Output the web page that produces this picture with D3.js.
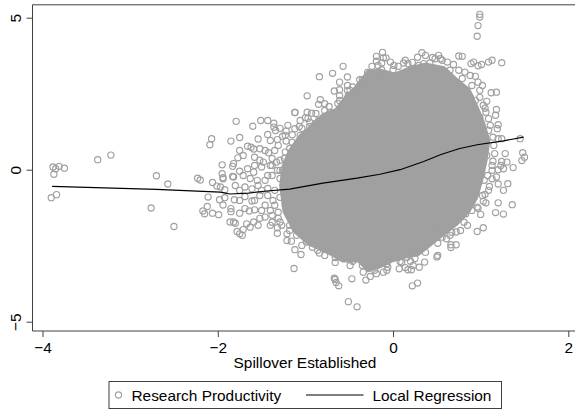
<!DOCTYPE html>
<html>
<head>
<meta charset="utf-8">
<script src="https://cdn.jsdelivr.net/npm/d3@7"></script>
<style>
  html, body { margin: 0; padding: 0; background: #fff; }
  svg { display: block; }
  text { font-family: "Liberation Sans", Arial, sans-serif; fill: #000; }
</style>
</head>
<body>
<div id="chart"></div>
<script>
// Values
const xTicks = [-4, -2, 0, 2];
const yTicks = [-5, 0, 5];
const xLabel = "Spillover Established";
const legendPoints = "Research Productivity";
const legendLine = "Local Regression";

// Individual circles that can be made out around the edge of the cloud
const pointX = [
  -3.90,-3.84,-3.87,-3.88,-3.85,-3.81,-3.75,-3.37,-3.22,-2.70,-2.57,-2.23,-2.20,-2.06,-1.95,-2.09,-2.07,-2.76,-2.50,-2.11,
  -1.79,-1.60,-1.51,-1.43,-1.36,-1.36,-1.34,-1.12,-1.00,-0.98,-1.75,-1.85,-1.54,-1.43,-1.40,-1.32,-1.22,-1.26,-1.22,-1.15,-1.12,-1.07,
  -1.66,-1.62,-1.59,-1.52,-1.75,-1.42,-1.71,-1.77,-1.58,-1.52,-1.48,-1.82,-1.83,-1.66,-1.75,-1.95,-1.94,-1.82,-1.71,-1.59,-1.50,-1.40,-1.33,-1.23,
  -2.01,-1.97,-1.94,-1.92,-1.83,-1.80,-1.75,-1.69,-1.61,-1.92,-1.98,-1.81,-1.69,-1.61,-1.94,-2.12,-2.17,-2.15,-2.06,-1.99,-1.85,-1.85,-1.69,-1.75,-1.64,-1.58,-1.50,
  -1.86,-1.82,-1.80,-1.67,-1.59,-1.54,-1.63,-1.78,-1.75,-1.72,-1.71,-1.32,-1.32,-1.21,-1.21,-1.16,-1.12,-1.05,-1.38,-1.46,-1.29,-1.18,-1.10,-0.99,
  -0.57,-0.69,-0.84,-0.52,-0.98,-0.61,-0.67,-0.61,-0.52,-0.52,-0.46,-0.38,-0.35,-0.61,-0.61,-0.51,-0.49,-0.55,-0.83,-0.85,-0.78,-0.73,-1.12,-0.93,-0.85,-0.89,-0.95,
  -0.19,-0.19,-0.12,-0.11,-0.08,-0.13,-0.03,0.01,-0.13,0.00,-0.09,-0.26,-0.20,
  0.75,0.79,1.24,1.13,1.09,1.01,0.97,0.92,0.89,0.33,0.37,0.28,0.52,0.48,0.54,0.56,0.62,0.69,0.42,0.35,0.29,0.12,0.17,
  0.75,0.82,0.88,0.94,0.97,1.02,0.99,1.18,1.12,1.07,1.03,1.18,1.17,1.06,1.09,1.20,1.19,0.99,0.94,0.88,0.94,
  1.45,1.48,1.50,1.47,1.28,1.24,1.20,1.14,1.05,1.09,1.37,1.30,1.24,1.23,1.26,1.20,1.14,1.16,1.07,1.13,1.18,1.13,1.04,1.31,1.20,1.10,1.09,1.26,1.05,1.03,1.06,1.20,1.36,1.17,1.26,1.00,0.96,0.90,0.83,0.85,1.03,0.96,0.77,0.72,0.65,0.61,0.56,0.72,0.66,0.66,0.50,
  0.51,0.50,0.37,0.36,0.30,0.23,0.21,0.17,0.14,0.07,0.08,0.20,0.28,0.22,0.04,0.16,0.23,0.42,0.50,
  -0.51,-0.41,-1.13,-0.47,-0.67,-0.66,-0.65,-0.62,-0.31,-0.92,-0.84,-0.78,-0.66,-0.46,-0.30,-0.26,-0.19,-0.11,-0.07,-0.34,-0.07,
  0.99,0.99,0.97,0.96,
  -1.35,-1.29,-1.38,-1.29,-1.46,-1.35,-1.43,-1.52,-1.46,-1.35,-1.29,-1.26,-1.18,-1.06,-0.95,-1.23,-1.38,-1.24,-1.15,-1.04,-1.29,-1.55,-1.63,-1.50,-1.40,-1.31,-1.27,-1.38,
  -1.06,-0.97,-0.88,-0.78,-0.72,-0.63,-0.58,-0.49,-0.43,-0.38,-0.29,-0.24,-0.17,0.06,0.14,0.22,0.45,0.65,0.79,0.90,0.99,1.05,1.11,1.15,1.13,1.08,1.02,0.97,0.81,0.67,0.51,0.37,0.25,0.10,-0.06,-0.21,-0.35,-0.49,-0.66,-0.86,-1.04,-1.18,-1.31,-1.37,-1.43,-1.32,-1.38,-1.31,-1.20,
  -1.58,-1.46,-1.54,-1.75,-1.58,-1.40,-1.52,-1.23,-1.29,-1.43
];
const pointY = [
  -0.92,-0.82,-0.15,0.09,0.03,0.11,0.05,0.33,0.48,-0.20,-0.47,-0.28,-0.34,-0.42,0.16,0.82,1.02,-1.26,-1.87,-0.90,
  1.59,1.43,1.62,1.62,1.53,1.40,1.29,1.88,1.71,1.89,1.06,0.94,1.01,1.16,0.96,0.99,1.27,1.10,0.94,1.15,1.35,1.42,
  0.77,0.74,0.68,0.69,0.63,0.56,0.47,0.39,0.41,0.31,0.25,0.20,0.11,0.03,-0.05,-0.13,-0.30,-0.24,-0.19,-0.08,0.09,0.14,0.25,0.58,
  -0.54,-0.57,-0.26,-0.66,-0.22,-0.52,-0.68,-0.57,-0.63,-0.92,-0.99,-0.99,-0.88,-1.03,-1.16,-1.21,-1.36,-1.45,-1.43,-1.48,-1.28,-1.38,-1.28,-1.43,-1.36,-1.32,-1.34,
  -1.72,-1.72,-1.76,-1.78,-1.72,-1.83,-1.89,-2.03,-2.11,-2.16,-1.97,-1.91,-2.09,-2.11,-2.33,-2.35,-2.63,-2.79,-1.50,-1.56,-1.72,-2.00,-2.16,-2.38,
  3.40,3.17,3.06,3.05,2.43,2.88,2.59,2.63,2.77,2.61,2.72,2.96,2.96,2.44,2.28,2.44,2.28,2.11,2.30,2.15,2.17,2.08,1.88,1.86,1.62,1.51,1.42,
  3.73,3.57,3.86,3.68,3.68,3.51,3.54,3.43,3.29,3.29,3.13,2.88,2.99,
  3.74,3.73,3.52,3.60,3.54,3.46,3.42,3.54,3.49,3.85,3.76,3.70,3.76,3.65,3.65,3.60,3.54,3.46,3.51,3.49,3.43,3.51,3.49,
  3.27,3.21,3.10,3.07,2.88,2.77,2.61,2.55,2.53,2.25,2.12,1.98,1.79,1.89,1.68,1.48,1.35,1.73,1.46,2.39,2.28,
  1.02,0.56,0.41,0.30,0.53,1.02,1.02,1.07,1.02,1.29,0.07,0.25,0.27,0.14,0.03,0.00,0.28,0.53,0.47,-0.02,-0.24,-0.30,-0.35,-0.46,-0.47,-0.55,-0.68,-0.68,-0.81,-1.04,-1.09,-1.09,-1.15,-1.41,-1.46,-1.47,-1.23,-1.34,-1.45,-1.83,-1.91,-2.03,-2.00,-2.05,-2.16,-2.27,-2.22,-2.47,-2.47,-2.56,-1.94,
  -2.82,-2.87,-2.49,-3.04,-3.21,-3.15,-3.29,-3.29,-3.22,-3.26,-3.02,-3.01,-3.73,-3.82,-2.88,-2.88,-2.71,-2.33,-2.11,
  -4.34,-4.51,-3.25,-3.59,-3.57,-3.61,-3.71,-3.82,-3.63,-2.55,-2.74,-2.82,-2.89,-3.01,-2.88,-3.51,-3.42,-3.37,-3.31,-3.37,-3.09,
  5.11,5.02,4.74,4.39,
  0.63,0.31,-0.19,-0.29,-0.35,-0.68,-0.85,-0.85,-1.17,-1.17,-0.91,-0.02,0.70,1.13,1.56,-1.17,0.14,0.37,0.90,1.36,-0.02,-0.35,-0.29,-0.68,-1.34,-1.40,-1.83,-1.73,
  1.62,1.69,1.85,1.95,1.88,2.18,1.95,2.61,2.51,2.77,3.20,3.40,3.43,3.40,3.60,3.53,3.69,3.27,3.00,2.77,2.38,2.02,1.46,0.80,0.14,-0.19,-0.85,-1.27,-1.73,-2.06,-2.42,-2.72,-2.92,-3.05,-3.21,-3.31,-3.15,-3.15,-3.05,-2.65,-2.49,-1.83,-1.60,-1.01,-0.62,-0.02,0.37,0.80,1.46,
  0.14,0.63,-0.52,-1.01,-1.01,-1.83,-1.60,1.13,1.36,-0.19
];

// Outline of the middle of the cloud, where the circles overlap into solid grey
const coreX = [-1.30,-1.27,-1.20,-1.08,-0.95,-0.81,-0.66,-0.55,-0.43,-0.30,-0.15,0.02,0.19,0.37,0.59,0.74,0.88,0.97,1.05,1.11,1.08,1.03,0.97,0.88,0.74,0.59,0.42,0.29,0.14,-0.01,-0.15,-0.29,-0.40,-0.58,-0.78,-0.97,-1.14,-1.26];
const coreY = [-0.52,0.14,0.63,1.13,1.46,1.85,2.02,2.44,2.77,3.27,3.33,3.20,3.40,3.53,3.40,3.00,2.67,2.11,1.56,0.96,0.31,-0.35,-0.94,-1.40,-1.83,-2.16,-2.55,-2.85,-2.92,-3.05,-3.25,-3.38,-3.05,-3.05,-2.72,-2.49,-2.06,-1.40];

// Local regression line
const lineX = [-3.89,-2.70,-1.97,-1.86,-1.65,-1.44,-1.18,-0.80,-0.41,-0.15,0.08,0.35,0.54,0.75,0.96,1.26,1.49];
const lineY = [-0.55,-0.65,-0.74,-0.80,-0.77,-0.70,-0.64,-0.44,-0.28,-0.15,0.00,0.27,0.49,0.69,0.82,0.95,1.07];

const width = 575, height = 411;
const grey = "#a0a0a0";
const axisColor = "#404040";
const fontSize = "15.4px";
const fontFamily = '"Liberation Sans", Arial, sans-serif';

let xScale = d3.scaleLinear().domain([-4, 2]).range([42.5, 568.3]);
let yScale = d3.scaleLinear().domain([-5, 5]).range([321.7, 17.7]);

let svg = d3.select("#chart").append("svg")
    .attr("width", width)
    .attr("height", height);

// solid middle of the cloud
let corePath = d3.line()
    .x(function(d) { return xScale(d[0]); })
    .y(function(d) { return yScale(d[1]); })
    .curve(d3.curveLinearClosed);

svg.append("path")
    .attr("d", corePath(d3.zip(coreX, coreY)))
    .attr("fill", grey);

svg.append("g").selectAll("circle")
    .data(d3.zip(pointX, pointY))
    .enter().append("circle")
    .attr("cx", function(d) { return xScale(d[0]); })
    .attr("cy", function(d) { return yScale(d[1]); })
    .attr("r", 3.1)
    .attr("fill", "none")
    .attr("stroke", grey)
    .attr("stroke-width", 1.15);

let regLine = d3.line()
    .x(function(d) { return xScale(d[0]); })
    .y(function(d) { return yScale(d[1]); });

svg.append("path")
    .attr("d", regLine(d3.zip(lineX, lineY)))
    .attr("fill", "none")
    .attr("stroke", "#000")
    .attr("stroke-width", 1.2);

// plot frame, open on the right
svg.append("path")
    .attr("d", "M575,4.8H32.5V331H575")
    .attr("fill", "none")
    .attr("stroke", axisColor)
    .attr("stroke-width", 1);

let xAxis = svg.append("g")
    .attr("transform", "translate(0,331)")
    .call(d3.axisBottom(xScale).tickValues(xTicks).tickSize(6).tickPadding(5).tickFormat(d3.format("d")));
xAxis.select(".domain").remove();
xAxis.selectAll("line").attr("stroke", axisColor);
xAxis.selectAll("text").style("font-size", fontSize).style("font-family", fontFamily);

let yAxis = svg.append("g")
    .attr("transform", "translate(32.5,0)")
    .call(d3.axisLeft(yScale).tickValues(yTicks).tickSize(6).tickFormat(d3.format("d")));
yAxis.select(".domain").remove();
yAxis.selectAll("line").attr("stroke", axisColor);
yAxis.selectAll("text")
    .attr("transform", "translate(-12,0) rotate(-90)")
    .attr("x", 0).attr("y", 0).attr("dy", 0)
    .attr("text-anchor", "middle")
    .style("font-size", fontSize)
    .style("font-family", fontFamily);

svg.append("text")
    .attr("x", 305)
    .attr("y", 368)
    .attr("text-anchor", "middle")
    .style("font-size", fontSize)
    .text(xLabel);

// legend
let legend = svg.append("g");
legend.append("rect")
    .attr("x", 109).attr("y", 381.5)
    .attr("width", 392.5).attr("height", 27)
    .attr("fill", "#fff")
    .attr("stroke", axisColor)
    .attr("stroke-width", 1);
legend.append("circle")
    .attr("cx", 118.5).attr("cy", 395)
    .attr("r", 3.1)
    .attr("fill", "none")
    .attr("stroke", grey)
    .attr("stroke-width", 1.15);
legend.append("text")
    .attr("x", 131.5).attr("y", 401)
    .style("font-size", fontSize)
    .text(legendPoints);
legend.append("line")
    .attr("x1", 306).attr("x2", 363.5)
    .attr("y1", 395).attr("y2", 395)
    .attr("stroke", "#000")
    .attr("stroke-width", 1.2);
legend.append("text")
    .attr("x", 372.5).attr("y", 401)
    .style("font-size", fontSize)
    .text(legendLine);
</script>
</body>
</html>
